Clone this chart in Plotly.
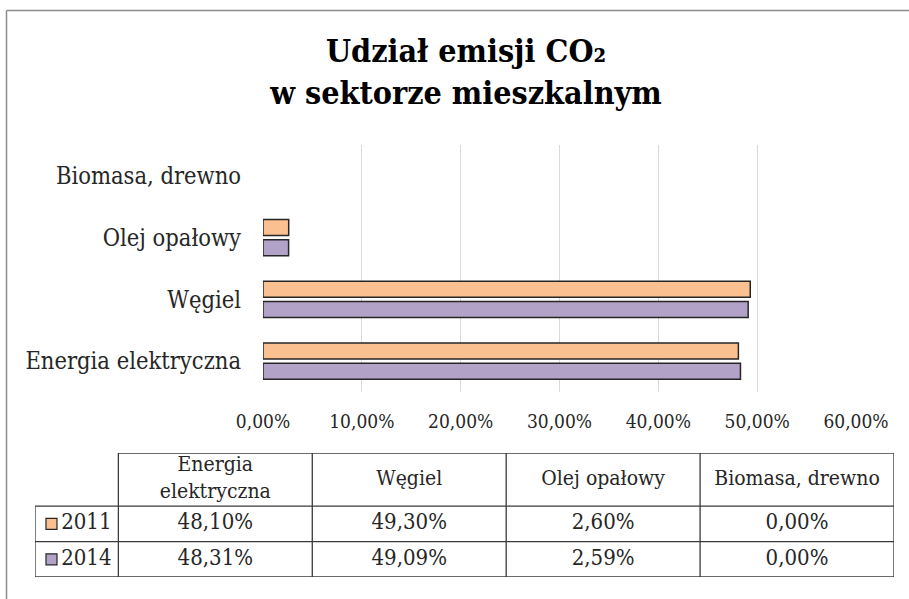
import plotly.graph_objects as go

# ---- data ----
categories = ["Energia elektryczna", "Węgiel", "Olej opałowy", "Biomasa, drewno"]
years = ["2011", "2014"]
values_2011 = [0.4810, 0.4930, 0.0260, 0.0000]
values_2014 = [0.4831, 0.4909, 0.0259, 0.0000]
x_ticks = [0.0, 0.1, 0.2, 0.3, 0.4, 0.5, 0.6]
title_text = "Udział emisji CO₂<br>w sektorze mieszkalnym"
table_headers = ["", "Energia<br>elektryczna", "Węgiel", "Olej opałowy", "Biomasa, drewno"]

# ---- styles ----
W, H = 909, 599
FONT = "DejaVu Serif Condensed"
C2011 = "#FAC090"
C2014 = "#B3A2C7"
EDGE = "#262626"

def px_x(p):
    return p / W

def px_y(p):
    return 1 - p / H

def edge_widths(vals):
    return [1.5 if v > 0 else 0 for v in vals]

fig = go.Figure()

# 2014 first so 2011 sits above it in each group
fig.add_trace(go.Bar(
    y=categories, x=values_2014, orientation="h", name=years[1],
    marker=dict(color=C2014, line=dict(color=EDGE, width=edge_widths(values_2014))),
    hoverinfo="x+y",
))
fig.add_trace(go.Bar(
    y=categories, x=values_2011, orientation="h", name=years[0],
    marker=dict(color=C2011, line=dict(color=EDGE, width=edge_widths(values_2011))),
    hoverinfo="x+y",
))

# ---- data table on its own axes ----
col_w = [0.43, 1, 1, 1, 1]
row_h = [1.5, 1, 1]
col_edges = [0]
for w in col_w:
    col_edges.append(col_edges[-1] + w)
row_edges = [0]
for h in row_h:
    row_edges.append(row_edges[-1] - h)

def col_center(i):
    return (col_edges[i] + col_edges[i + 1]) / 2

def row_center(j):
    return (row_edges[j] + row_edges[j + 1]) / 2

fig.add_trace(go.Scatter(
    x=[col_center(i) for i in range(1, 5)],
    y=[row_center(0)] * 4,
    text=table_headers[1:], mode="text",
    textfont=dict(family=FONT, size=21, color="#262626"),
    xaxis="x2", yaxis="y2", showlegend=False, hoverinfo="skip", cliponaxis=False,
))
for j, vals in enumerate([values_2011, values_2014]):
    fig.add_trace(go.Scatter(
        x=[col_center(i) for i in range(1, 5)],
        y=[row_center(j + 1)] * 4,
        text=[f"{v*100:.2f}%".replace(".", ",") for v in vals], mode="text",
        textfont=dict(family=FONT, size=22, color="#262626"),
        xaxis="x2", yaxis="y2", showlegend=False, hoverinfo="skip", cliponaxis=False,
    ))
for j, (yr, col) in enumerate(zip(years, [C2011, C2014])):
    fig.add_trace(go.Scatter(
        x=[col_edges[0] + 0.085], y=[row_center(j + 1)], mode="markers",
        marker=dict(symbol="square", size=11, color=col, line=dict(color=EDGE, width=1.2)),
        xaxis="x2", yaxis="y2", showlegend=False, hoverinfo="skip", cliponaxis=False,
    ))
    fig.add_trace(go.Scatter(
        x=[col_edges[0] + 0.135], y=[row_center(j + 1)], text=[yr], mode="text",
        textposition="middle right",
        textfont=dict(family=FONT, size=22, color="#262626"),
        xaxis="x2", yaxis="y2", showlegend=False, hoverinfo="skip", cliponaxis=False,
    ))

shapes = []
LINE = dict(color="#3a3a3a", width=1.3)
shapes.append(dict(type="line", xref="x2", yref="y2", x0=col_edges[1], x1=col_edges[-1],
                   y0=row_edges[0], y1=row_edges[0], line=LINE))
for r in row_edges[1:]:
    shapes.append(dict(type="line", xref="x2", yref="y2", x0=col_edges[0], x1=col_edges[-1],
                       y0=r, y1=r, line=LINE))
shapes.append(dict(type="line", xref="x2", yref="y2", x0=col_edges[0], x1=col_edges[0],
                   y0=row_edges[1], y1=row_edges[-1], line=LINE))
for c in col_edges[1:]:
    shapes.append(dict(type="line", xref="x2", yref="y2", x0=c, x1=c,
                       y0=row_edges[0], y1=row_edges[-1], line=LINE))
shapes.append(dict(type="line", xref="paper", yref="paper", x0=px_x(6.5), x1=1.0,
                   y0=px_y(10.5), y1=px_y(10.5), line=dict(color="#8c8c8c", width=1.5)))
shapes.append(dict(type="line", xref="paper", yref="paper", x0=px_x(6.5), x1=px_x(6.5),
                   y0=px_y(10.5), y1=0.0, line=dict(color="#8c8c8c", width=1.5)))

fig.update_layout(
    width=W, height=H, autosize=False,
    margin=dict(l=0, r=0, t=0, b=0, pad=0, autoexpand=False),
    paper_bgcolor="white", plot_bgcolor="white",
    separators=", ",
    barmode="group", bargap=0.35, bargroupgap=0.2,
    showlegend=False,
    font=dict(family=FONT, color="#262626"),
    title=dict(text=title_text, x=px_x(466), y=px_y(62), xanchor="center", yanchor="middle",
               automargin=False,
               font=dict(family=FONT, size=32, color="#000000", weight="bold")),
    xaxis=dict(domain=[px_x(263), px_x(856)], range=[0, 0.6], tickvals=x_ticks,
               tickformat=".2%", showgrid=True, gridcolor="#d9d9d9", gridwidth=1.3,
               zeroline=False, showline=False, ticks="", ticklabelstandoff=16, automargin=False,
               tickfont=dict(family=FONT, size=19, color="#262626"), fixedrange=True),
    yaxis=dict(domain=[px_y(392), px_y(145)], categoryorder="array", categoryarray=categories,
               showgrid=False, zeroline=False, showline=False, ticks="", ticklabelstandoff=21,
               automargin=False,
               tickfont=dict(family=FONT, size=23.5, color="#262626"), fixedrange=True),
    xaxis2=dict(domain=[px_x(35), px_x(894)], range=[col_edges[0], col_edges[-1]],
                visible=False, fixedrange=True, anchor="y2", automargin=False),
    yaxis2=dict(domain=[px_y(577), px_y(453)], range=[row_edges[-1], row_edges[0]],
                visible=False, fixedrange=True, anchor="x2", automargin=False),
    shapes=shapes,
)

fig.write_html("out.html", config={"displayModeBar": False, "responsive": False},
               post_script="document.body.style.margin='0';")
